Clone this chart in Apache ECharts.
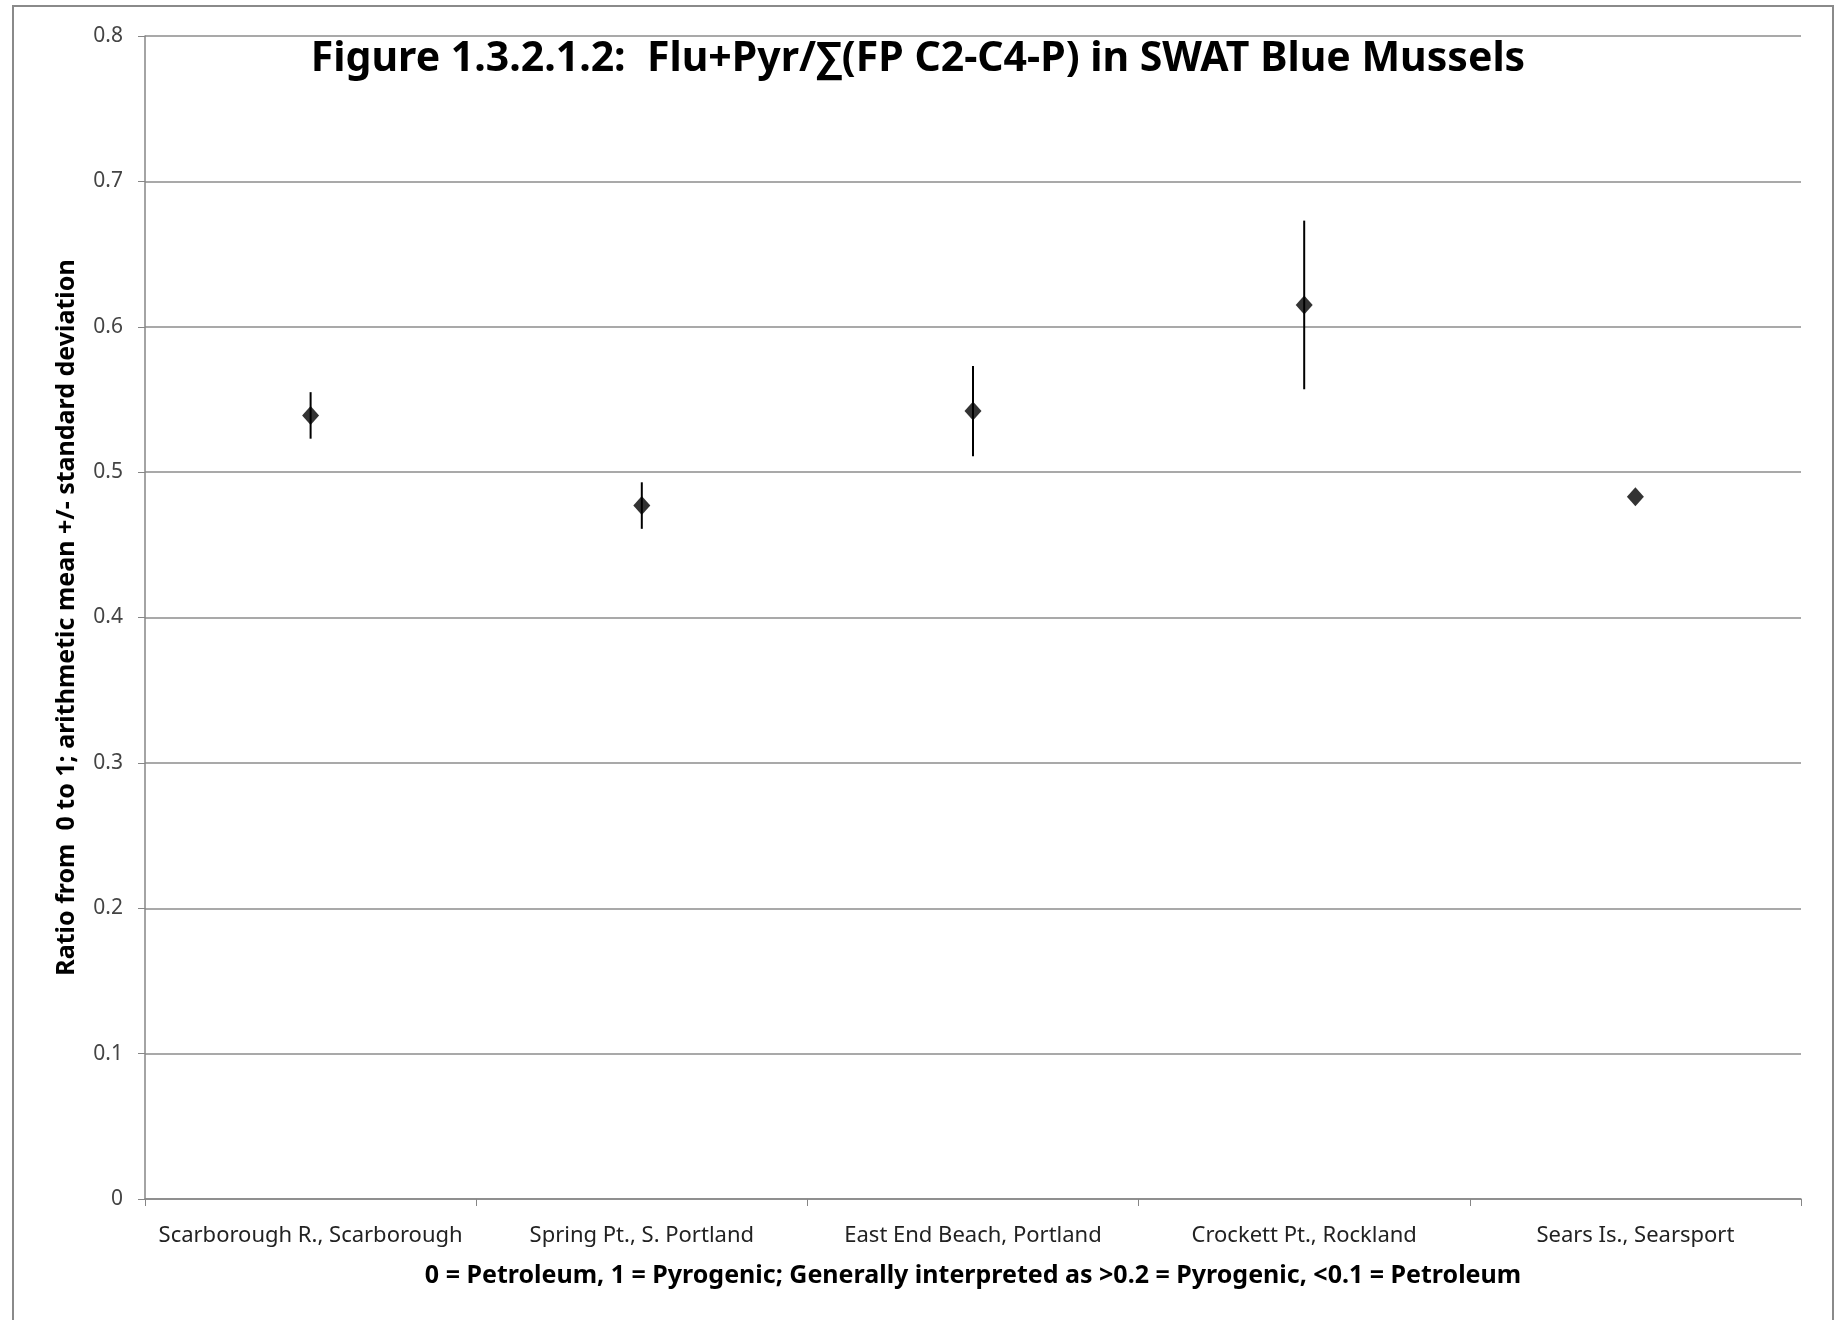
<!DOCTYPE html>
<html>
<head>
<meta charset="utf-8">
<script src="https://cdn.jsdelivr.net/npm/echarts@6/dist/echarts.min.js"></script>
<style>
  html, body { margin: 0; padding: 0; background: #fff; }
  #chart { width: 1836px; height: 1320px; }
</style>
</head>
<body>
<div id="chart"></div>
<script>
const sites = ['Scarborough R., Scarborough', 'Spring Pt., S. Portland', 'East End Beach, Portland', 'Crockett Pt., Rockland', 'Sears Is., Searsport']
const means = [0.539, 0.477, 0.542, 0.615, 0.483]
const stdDevs = [0.016, 0.016, 0.031, 0.058, 0]

const FONT = '"Noto Sans", "Open Sans", sans-serif'

const chart = echarts.init(document.getElementById('chart'))

const errorData = sites.map((s, i) => [i, means[i] - stdDevs[i], means[i] + stdDevs[i]])

function renderErrorBar(params, api) {
  const lo = api.coord([api.value(0), api.value(1)])
  const hi = api.coord([api.value(0), api.value(2)])
  return {
    type: 'line',
    shape: { x1: lo[0], y1: lo[1], x2: hi[0], y2: hi[1] },
    style: { stroke: '#000', lineWidth: 2 }
  }
}

chart.setOption({
  animation: false,
  backgroundColor: '#fff',
  title: {
    text: 'Figure 1.3.2.1.2:  Flu+Pyr/∑(FP C2-C4-P) in SWAT Blue Mussels',
    left: 'center',
    top: 34,
    textStyle: { fontFamily: FONT, fontSize: 41, fontWeight: 'bold', color: '#000' }
  },
  graphic: [{
    type: 'rect',
    shape: { x: 13, y: 6, width: 1820, height: 1340 },
    style: { fill: 'none', stroke: '#8a8a8a', lineWidth: 2 },
    silent: true
  }],
  grid: { left: 145, right: 35, top: 36, bottom: 121 },
  xAxis: {
    type: 'category',
    data: sites,
    boundaryGap: true,
    name: '0 = Petroleum, 1 = Pyrogenic; Generally interpreted as >0.2 = Pyrogenic, <0.1 = Petroleum',
    nameLocation: 'middle',
    nameGap: 64,
    nameTextStyle: { fontFamily: FONT, fontSize: 25, fontWeight: 'bold', color: '#000' },
    axisLine: { lineStyle: { color: '#868686', width: 1.5 } },
    axisTick: { show: true, length: 7, lineStyle: { color: '#868686' } },
    axisLabel: { interval: 0, fontFamily: FONT, fontSize: 22, color: '#222', margin: 26 },
    splitLine: { show: false }
  },
  yAxis: {
    type: 'value',
    min: 0,
    max: 0.8,
    interval: 0.1,
    name: 'Ratio from  0 to 1; arithmetic mean +/- standard deviation',
    nameLocation: 'middle',
    nameRotate: 90,
    nameGap: 66,
    nameTextStyle: { fontFamily: FONT, fontSize: 25, fontWeight: 'bold', color: '#000' },
    axisLine: { show: true, lineStyle: { color: '#868686', width: 1.5 } },
    axisTick: { show: true, length: 7, lineStyle: { color: '#868686' } },
    axisLabel: {
      fontFamily: FONT, fontSize: 21, color: '#444', margin: 22,
      formatter: v => (v === 0 ? '0' : v.toFixed(1))
    },
    splitLine: { show: true, lineStyle: { color: '#8c8c8c', width: 1.5 } }
  },
  series: [
    {
      name: 'sd',
      type: 'custom',
      renderItem: renderErrorBar,
      data: errorData,
      encode: { x: 0, y: [1, 2] },
      z: 2
    },
    {
      name: 'mean',
      type: 'scatter',
      symbol: 'diamond',
      symbolSize: [17, 19],
      itemStyle: { color: '#000' },
      data: means,
      z: 3
    }
  ]
})
</script>
</body>
</html>
